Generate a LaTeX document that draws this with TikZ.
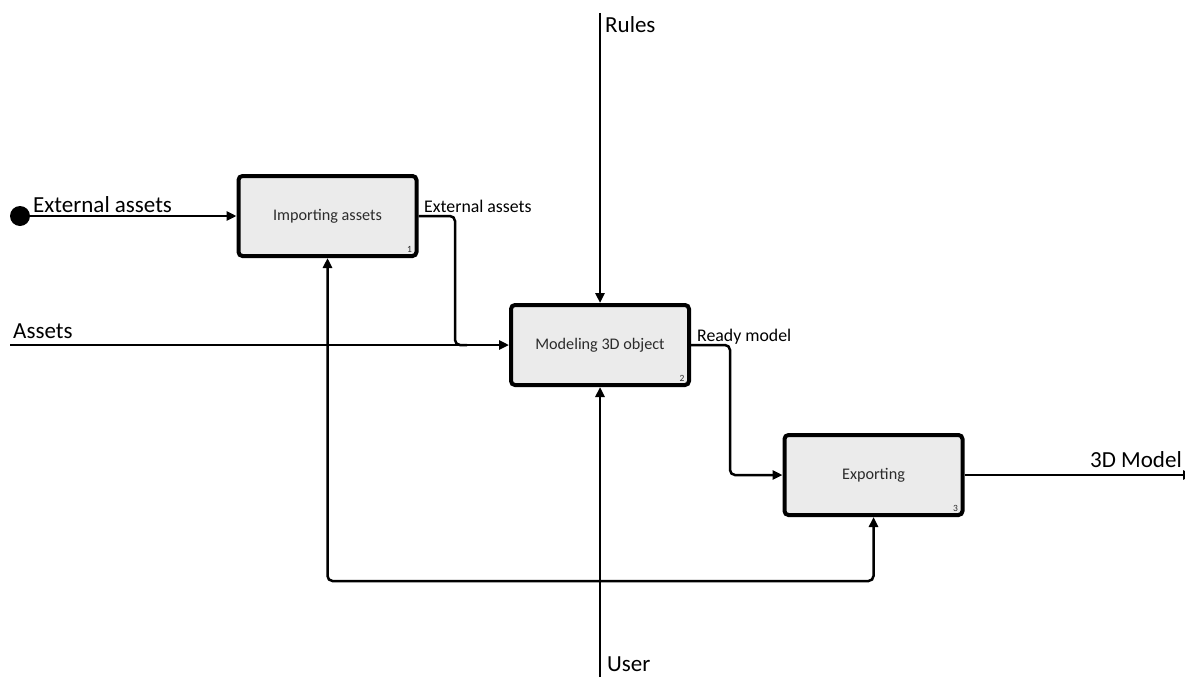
\documentclass[tikz,border=0pt]{standalone}
\usepackage{fontspec}
\setmainfont{Carlito}
\usetikzlibrary{arrows.meta}
\definecolor{boxfill}{HTML}{EBEBEB}
\definecolor{boxtext}{HTML}{2B2B2B}
\begin{document}
\begin{tikzpicture}[x=1pt,y=-1pt,
  process/.style={draw=black, line width=4pt, rounded corners=4pt, fill=boxfill,
    minimum width=178pt, minimum height=80pt, inner sep=0pt,
    font=\fontsize{16.2}{18}\selectfont, text=boxtext},
  flow/.style={line width=2.5pt, rounded corners=5pt},
  tip/.style={-{Triangle[length=10pt,width=9pt]}},
  biglabel/.style={font=\fontsize{23}{26}\selectfont, inner sep=0pt},
  smalllabel/.style={font=\fontsize{17.8}{20}\selectfont, inner sep=0pt},
  numlabel/.style={font=\fontsize{9.5}{10}\selectfont, inner sep=0pt, text=boxtext}]
\useasboundingbox (0,0) rectangle (1185,677);
\clip (0,0) rectangle (1185,677);

% activity boxes
\node[process] (imp) at (327.5,216) {Importing assets};
\node[process] (mod) at (600,345) {Modeling 3D object};
\node[process] (exp) at (873.5,475) {Exporting};
\node[numlabel] (n1) at ([shift={(-9,-9)}]imp.south east) {1};
\node[numlabel] (n2) at ([shift={(-9,-9)}]mod.south east) {2};
\node[numlabel] (n3) at ([shift={(-9,-9)}]exp.south east) {3};

% boundary points
\node[circle, fill=black, minimum size=20pt, inner sep=0pt] (src) at (20,216) {};
\coordinate (assetsIn) at (10,345);
\coordinate (rulesIn) at (600,13);
\coordinate (userIn) at (600,677);
\coordinate (userSplit) at (600,581);
\coordinate (extBend) at (455,216);
\coordinate (readyBend) at (730,345);
\coordinate (modelOut) at (1193,475);

% inputs
\draw[flow, tip] (src.center) -- (imp.west);
\draw[flow, tip] (assetsIn) -- (mod.west);
\draw[flow] (imp.east) -- (extBend) -- (extBend |- mod.west) -- ([xshift=12pt]extBend |- mod.west);

% control
\draw[flow, tip] (rulesIn) -- (mod.north);

% mechanism: user branches
\draw[flow, tip] (userIn) -- (mod.south);
\draw[flow, tip] (userSplit) -| (imp.south);
\draw[flow, tip] (userSplit) -| (exp.south);

% outputs
\draw[flow, tip] (mod.east) -- (readyBend) -- (readyBend |- exp.west) -- (exp.west);
\draw[flow, tip] (exp.east) -- (modelOut);

% arrow labels
\node[biglabel, anchor=base west] (lExt) at (33,212) {External assets};
\node[biglabel, anchor=base west] (lAssets) at (13,338) {Assets};
\node[biglabel, anchor=base west] (lRules) at (605,33) {Rules};
\node[biglabel, anchor=base west] (lUser) at (607,671) {User};
\node[biglabel, anchor=base east] (lModel) at (1182,467) {3D Model};
\node[smalllabel, anchor=base west] (lExtOut) at (424,212) {External assets};
\node[smalllabel, anchor=base west] (lReady) at (697,341) {Ready model};
\end{tikzpicture}
\end{document}
